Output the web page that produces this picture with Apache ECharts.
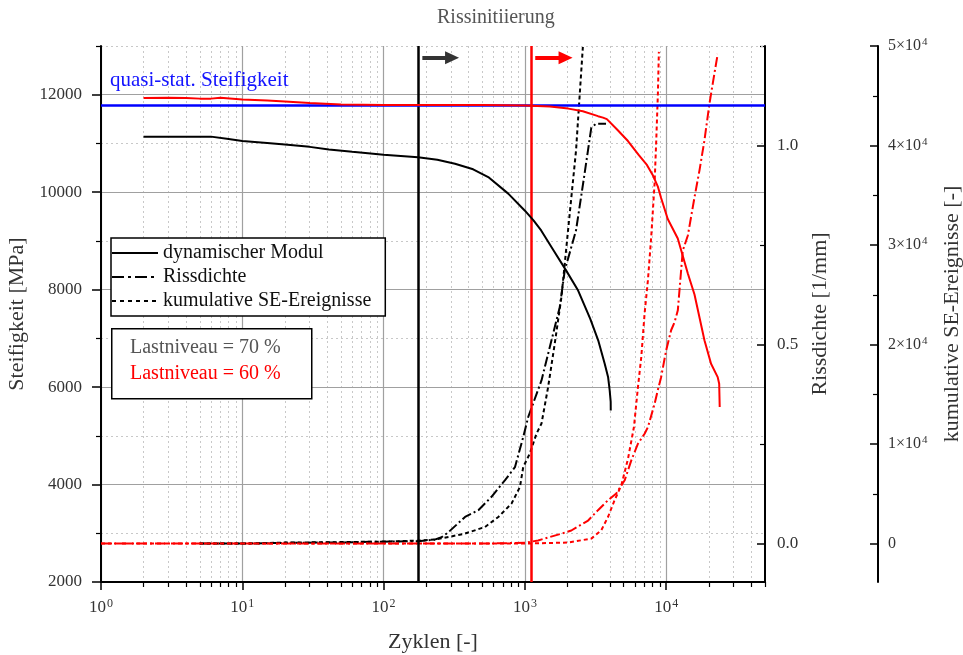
<!DOCTYPE html>
<html><head><meta charset="utf-8">
<script src="https://cdn.jsdelivr.net/npm/echarts@6/dist/echarts.min.js"></script>
<style>html,body{margin:0;padding:0;background:#fff}#c{width:963px;height:655px}</style>
</head><body><div id="c"></div>
<script>
const FONT = '"Liberation Serif", "Times New Roman", serif';

// ---- Data ----
// dynamic modulus, load level 70 % (black, solid) [MPa]
const modul70X = [2, 3, 4, 6, 8, 10, 15, 20, 30, 41, 60, 100, 175, 240, 320, 430, 550, 762, 1000, 1150, 1303, 1600, 1960, 2380, 2900, 3300, 3670, 3880, 3980, 4045, 4050];
const modul70Y = [11140, 11140, 11140, 11140, 11090, 11050, 11010, 10980, 10930, 10875, 10830, 10770, 10715, 10665, 10585, 10470, 10310, 9970, 9620, 9420, 9215, 8800, 8390, 7980, 7400, 6960, 6480, 6200, 5930, 5700, 5520];
// dynamic modulus, load level 60 % (red, solid) [MPa]
const modul60X = [2, 3, 4, 5, 6, 7, 10, 15, 20, 30, 50, 100, 200, 500, 1000, 1500, 2030, 2570, 3290, 3570, 3800, 4560, 5360, 6400, 7300, 8060, 8710, 9200, 10250, 12070, 14220, 15850, 18640, 20760, 23130, 23700, 23900];
const modul60Y = [11935, 11940, 11935, 11920, 11920, 11940, 11900, 11880, 11860, 11830, 11800, 11790, 11790, 11790, 11780, 11760, 11715, 11660, 11560, 11530, 11500, 11267, 11050, 10760, 10560, 10340, 10120, 9880, 9450, 9050, 8330, 7900, 6960, 6480, 6205, 6070, 5590];
// crack density, 70 % (black, dash-dot) [1/mm]
const riss70X = [5, 10, 20, 50, 100, 175, 230, 257, 288, 377, 468, 578, 721, 850, 973, 1055, 1310, 1540, 1764, 1913, 2300, 2620, 2950, 3200, 3750];
const riss70Y = [0.0, 0.0, 0.002, 0.003, 0.005, 0.006, 0.010, 0.016, 0.029, 0.067, 0.084, 0.117, 0.159, 0.192, 0.268, 0.318, 0.41, 0.51, 0.594, 0.686, 0.787, 0.92, 1.045, 1.055, 1.055];
// crack density, 60 % (red, dash-dot) [1/mm]
const riss60X = [1, 2, 5, 10, 20, 50, 100, 200, 500, 1000, 1240, 1811, 2130, 2800, 3290, 3870, 4430, 4810, 5080, 5660, 6310, 7030, 7430, 8270, 8710, 9200, 9980, 10830, 11450, 12080, 13090, 14220, 15850, 17180, 18640, 20220, 21320, 23130];
const riss60Y = [0, 0, 0, 0, 0, 0, 0, 0, 0, 0.002, 0.008, 0.025, 0.033, 0.058, 0.084, 0.109, 0.126, 0.146, 0.159, 0.209, 0.251, 0.276, 0.293, 0.351, 0.385, 0.418, 0.485, 0.536, 0.556, 0.586, 0.736, 0.774, 0.87, 0.937, 1.013, 1.105, 1.155, 1.230];
// cumulative AE events, 70 % (black, dotted)
const se70X = [5, 10, 20, 50, 100, 175, 230, 288, 377, 522, 648, 804, 922, 973, 1083, 1208, 1310, 1460, 1626, 1813, 1966, 2020, 2300, 2570];
const se70Y = [0, 0, 100, 150, 200, 300, 400, 663, 1005, 1670, 2670, 4020, 5690, 7700, 9045, 11055, 12060, 15740, 20100, 24780, 29800, 31500, 39500, 49900];
// cumulative AE events, 60 % (red, dotted)
const se60X = [1, 2, 5, 10, 100, 1000, 2000, 2950, 3470, 3870, 4310, 4810, 5360, 5910, 6310, 6660, 7030, 7420, 7830, 8270, 8500, 8730, 8870];
const se60Y = [0, 0, 0, 0, 0, 0, 100, 500, 1340, 2670, 4350, 5860, 8500, 11720, 15740, 18750, 23120, 26460, 30810, 36180, 40530, 45230, 49410];

// reference / annotation values
const quasiStatStiffness = 11780;
const crackInit70 = 175;
const crackInit60 = 1100;
const arrow70 = [188, 305];
const arrow60 = [1183, 1940];
const arrowLevel = 12760;

// axes / ticks
const xRange = [1, 50000];
const xMajorTicks = [1, 10, 100, 1000, 10000];
const xMinorTicks = [2,3,4,5,6,7,8,9,20,30,40,50,60,70,80,90,200,300,400,500,600,700,800,900,2000,3000,4000,5000,6000,7000,8000,9000,20000,30000,40000,50000];
const yRange = [2000, 13000];
const yMajorTicks = [2000, 4000, 6000, 8000, 10000, 12000];
const yMinorTicks = [3000, 5000, 7000, 9000, 11000, 13000];
const rissRange = [-0.0964, 1.25];
const rissMajorTicks = [0, 0.5, 1.0];
const rissMinorTicks = [0.25, 0.75, 1.25];
const seRange = [-3860, 50000];
const seMajorTicks = [0, 10000, 20000, 30000, 40000, 50000];
const seMinorTicks = [5000, 15000, 25000, 35000, 45000];

const legendNames = ['dynamischer Modul', 'Rissdichte', 'kumulative SE-Ereignisse'];

const zip = (xs, ys) => xs.map((x, i) => [x, ys[i]]);
const DASHDOT = [10, 3, 2, 3];
const DOT = [4, 3];

const chart = echarts.init(document.getElementById('c'), null, {renderer: 'canvas'});

const lbl = {fontFamily: FONT, fontSize: 17, color: '#333'};
const nameStyle = {fontFamily: FONT, fontSize: 22, color: '#333'};

const option = {
  animation: false,
  backgroundColor: '#fff',
  title: {
    text: 'Rissinitiierung', left: 437, top: 8, padding: 0,
    textStyle: {fontFamily: FONT, fontSize: 20, fontWeight: 'normal', color: '#555'}
  },
  grid: {left: 101, right: 198, top: 46, bottom: 73, containLabel: false, outerBoundsMode: 'none'},
  legend: {
    data: legendNames, orient: 'vertical', left: 111, top: 238,
    itemWidth: 46, itemHeight: 14, itemGap: 4,
    padding: [5, 14, 5, 0], borderColor: '#000', borderWidth: 1.5, backgroundColor: '#fff',
    selectedMode: false,
    itemStyle: {opacity: 0, borderWidth: 0},
    textStyle: {fontFamily: FONT, fontSize: 20, color: '#111'}
  },
  xAxis: [
    {
      type: 'log', logBase: 10, min: xRange[0], max: xRange[1], position: 'bottom',
      name: 'Zyklen [-]', nameLocation: 'middle', nameGap: 49, nameTextStyle: nameStyle,
      axisLine: {show: true, onZero: false, lineStyle: {color: '#000', width: 2}},
      axisTick: {show: true, inside: false, length: 8, customValues: xMajorTicks, lineStyle: {color: '#000', width: 1.5}},
      axisLabel: {
        customValues: xMajorTicks, margin: 16,
        formatter: v => '{b|10}{s|' + Math.round(Math.log10(v)) + '}',
        rich: {
          b: {fontFamily: FONT, fontSize: 17, color: '#333'},
          s: {fontFamily: FONT, fontSize: 12, color: '#333', verticalAlign: 'top', padding: [0, 0, 8, 1]}
        }
      },
      splitLine: {show: true, lineStyle: {color: '#a0a0a0', width: 1.2}},
      z: 3
    },
    {
      type: 'log', logBase: 10, min: xRange[0], max: xRange[1], position: 'bottom',
      axisLine: {show: false, onZero: false},
      axisTick: {show: true, length: 5, customValues: xMinorTicks, lineStyle: {color: '#000', width: 1.2}},
      axisLabel: {show: false},
      splitLine: {show: true, lineStyle: {color: '#c8c8c8', width: 1, type: [2, 3]}},
      z: 1
    }
  ],
  yAxis: [
    {
      type: 'value', min: yRange[0], max: yRange[1], position: 'left',
      name: 'Steifigkeit [MPa]', nameLocation: 'middle', nameGap: 66, nameTextStyle: nameStyle,
      axisLine: {show: true, onZero: false, lineStyle: {color: '#000', width: 2}},
      axisTick: {show: true, length: 9, customValues: yMajorTicks, lineStyle: {color: '#000', width: 1.5}},
      axisLabel: Object.assign({customValues: yMajorTicks, margin: 19, formatter: v => String(v)}, lbl),
      splitLine: {show: true, lineStyle: {color: '#a0a0a0', width: 1.2}},
      z: 3
    },
    {
      type: 'value', min: rissRange[0], max: rissRange[1], position: 'right', offset: 0,
      name: 'Rissdichte [1/mm]', nameLocation: 'middle', nameGap: 43, nameTextStyle: nameStyle,
      axisLine: {show: true, onZero: false, lineStyle: {color: '#000', width: 2}},
      axisTick: {show: true, inside: true, length: 8, customValues: rissMajorTicks, lineStyle: {color: '#000', width: 1.5}},
      axisLabel: Object.assign({customValues: rissMajorTicks, margin: 12, formatter: v => v.toFixed(1)}, lbl),
      splitLine: {show: false},
      z: 3
    },
    {
      type: 'value', min: seRange[0], max: seRange[1], position: 'right', offset: 113,
      name: 'kumulative SE-Ereignisse [-]', nameLocation: 'middle', nameGap: 63, nameTextStyle: nameStyle,
      axisLine: {show: true, onZero: false, lineStyle: {color: '#000', width: 2}},
      axisTick: {show: true, inside: true, length: 8, customValues: seMajorTicks, lineStyle: {color: '#000', width: 1.5}},
      axisLabel: {
        customValues: seMajorTicks, margin: 10,
        formatter: v => v === 0 ? '{b|0}' : '{b|' + Math.round(v / 10000) + '×10}{s|4}',
        rich: {
          b: {fontFamily: FONT, fontSize: 16, color: '#333'},
          s: {fontFamily: FONT, fontSize: 11, color: '#333', verticalAlign: 'top', padding: [0, 0, 7, 1]}
        }
      },
      splitLine: {show: false},
      z: 3
    },
    {
      type: 'value', min: yRange[0], max: yRange[1], position: 'left', offset: 0,
      axisLine: {show: false, onZero: false},
      axisTick: {show: true, length: 5, customValues: yMinorTicks, lineStyle: {color: '#000', width: 1.2}},
      axisLabel: {show: false},
      splitLine: {show: true, lineStyle: {color: '#c8c8c8', width: 1, type: [2, 3]}},
      z: 1
    },
    {
      type: 'value', min: rissRange[0], max: rissRange[1], position: 'right', offset: 0,
      axisLine: {show: false, onZero: false},
      axisTick: {show: true, inside: true, length: 5, customValues: rissMinorTicks, lineStyle: {color: '#000', width: 1.2}},
      axisLabel: {show: false}, splitLine: {show: false}
    },
    {
      type: 'value', min: seRange[0], max: seRange[1], position: 'right', offset: 113,
      axisLine: {show: false, onZero: false},
      axisTick: {show: true, inside: true, length: 5, customValues: seMinorTicks, lineStyle: {color: '#000', width: 1.2}},
      axisLabel: {show: false}, splitLine: {show: false}
    }
  ],
  graphic: [
    {type: 'text', left: 110, top: 70, z: 50,
     style: {text: 'quasi-stat. Steifigkeit', fill: '#1414ff', font: '21px "Liberation Serif"'}},
    {type: 'rect', left: 111, top: 328, z: 50,
     shape: {width: 200, height: 70}, style: {fill: '#fff', stroke: '#000', lineWidth: 1.5}},
    {type: 'text', left: 130, top: 338, z: 51,
     style: {text: 'Lastniveau = 70 %', fill: '#555', font: '20px "Liberation Serif"'}},
    {type: 'text', left: 130, top: 364, z: 51,
     style: {text: 'Lastniveau = 60 %', fill: '#ff0000', font: '20px "Liberation Serif"'}}
  ],
  series: [
    // legend-only entries
    {name: legendNames[0], type: 'line', data: [], symbol: 'none', showSymbol: false, color: '#000', lineStyle: {color: '#000', width: 2, type: 'solid'}},
    {name: legendNames[1], type: 'line', data: [], symbol: 'none', showSymbol: false, color: '#000', lineStyle: {color: '#000', width: 2, type: [12, 4, 3, 4]}},
    {name: legendNames[2], type: 'line', data: [], symbol: 'none', showSymbol: false, color: '#000', lineStyle: {color: '#000', width: 2, type: [4, 4]}},
    {
      name: 'Modul 70 %', type: 'line', xAxisIndex: 0, yAxisIndex: 0, data: zip(modul70X, modul70Y),
      symbol: 'none', lineStyle: {color: '#000', width: 2}, z: 5,
      markLine: {
        silent: true, symbol: ['none', 'none'], label: {show: false},
        data: [
          {xAxis: crackInit70, lineStyle: {color: '#000', width: 2.5, type: 'solid'}},
          [{coord: [arrow70[0], arrowLevel], symbol: 'none'},
           {coord: [arrow70[1], arrowLevel], symbol: 'triangle', symbolSize: [13, 14],
            lineStyle: {color: '#333', width: 4, type: 'solid'}}]
        ]
      }
    },
    {
      name: 'Modul 60 %', type: 'line', xAxisIndex: 0, yAxisIndex: 0, data: zip(modul60X, modul60Y),
      symbol: 'none', lineStyle: {color: '#ff0000', width: 2}, z: 6,
      markLine: {
        silent: true, symbol: ['none', 'none'], label: {show: false},
        data: [
          {yAxis: quasiStatStiffness, lineStyle: {color: '#0000ff', width: 2.5, type: 'solid'}},
          {xAxis: crackInit60, lineStyle: {color: '#ff0000', width: 2.5, type: 'solid'}},
          [{coord: [arrow60[0], arrowLevel], symbol: 'none'},
           {coord: [arrow60[1], arrowLevel], symbol: 'triangle', symbolSize: [13, 14],
            lineStyle: {color: '#ff0000', width: 4, type: 'solid'}}]
        ]
      }
    },
    {name: 'Rissdichte 70 %', type: 'line', xAxisIndex: 0, yAxisIndex: 1, data: zip(riss70X, riss70Y),
     symbol: 'none', lineStyle: {color: '#000', width: 2, type: DASHDOT}, z: 4},
    {name: 'Rissdichte 60 %', type: 'line', xAxisIndex: 0, yAxisIndex: 1, data: zip(riss60X, riss60Y),
     symbol: 'none', lineStyle: {color: '#ff0000', width: 2, type: DASHDOT}, z: 4},
    {name: 'SE 70 %', type: 'line', xAxisIndex: 0, yAxisIndex: 2, data: zip(se70X, se70Y),
     symbol: 'none', lineStyle: {color: '#000', width: 2, type: DOT}, z: 4},
    {name: 'SE 60 %', type: 'line', xAxisIndex: 0, yAxisIndex: 2, data: zip(se60X, se60Y),
     symbol: 'none', lineStyle: {color: '#ff0000', width: 2, type: DOT}, z: 4}
  ]
};
chart.setOption(option);
</script></body></html>
